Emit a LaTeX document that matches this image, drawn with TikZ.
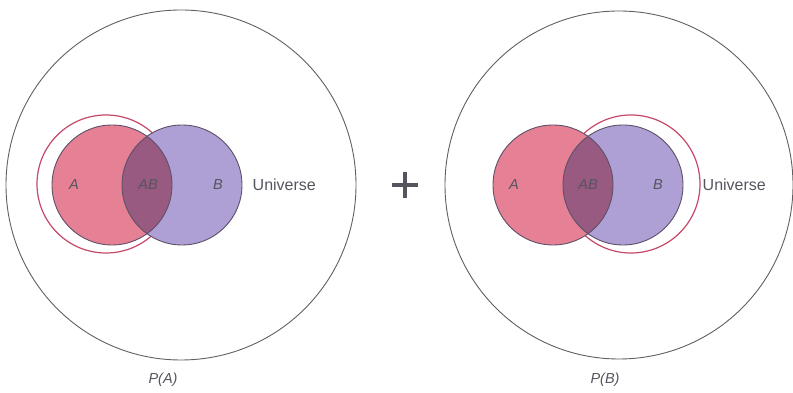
\documentclass[tikz,border=0pt]{standalone}
\usepackage{fontspec}
\setmainfont{Liberation Sans}
\usepackage{xcolor}
\usetikzlibrary{positioning}
\definecolor{LineCol}{RGB}{95,95,100}
\definecolor{SetEdge}{RGB}{95,80,105}
\definecolor{ACol}{RGB}{230,128,148}
\definecolor{BCol}{RGB}{174,160,212}
\definecolor{ABCol}{RGB}{152,90,128}
\definecolor{RingCol}{RGB}{196,72,104}
\definecolor{TxtCol}{RGB}{85,85,95}
\tikzset{
  vnuniv/.style={line width=0.9pt, draw=LineCol},
  vnset/.style={line width=0.9pt, draw=SetEdge},
  vnring/.style={line width=1.2pt, draw=RingCol},
  vnlab/.style={font=\fontsize{14.5}{15}\selectfont\itshape, text=TxtCol, inner sep=0.5pt},
  vnuni/.style={font=\fontsize{16}{17}\selectfont, text=TxtCol, inner sep=0.5pt, anchor=west},
  vnplus/.style={line width=4pt, draw=TxtCol}
}
\begin{document}
\begin{tikzpicture}[x=1pt,y=1pt]
  \useasboundingbox (0,0) rectangle (793,393);
  % left panel: P(A)
  \draw[vnuniv] (181,208) circle (175);
  \draw[vnring] (106,209) circle (69);
  \fill[ACol] (112,208) circle (60);
  \fill[BCol] (182,208) circle (60);
  \begin{scope}
    \clip (112,208) circle (60);
    \fill[ABCol] (182,208) circle (60);
  \end{scope}
  \draw[vnset] (112,208) circle (60);
  \draw[vnset] (182,208) circle (60);
  \node[vnlab] (lA) at (74,208) {A};
  \node[vnlab] (lAB) at (148,208) {AB};
  \node[vnlab] (lB) at (218,208) {B};
  \node[vnuni] (lU) at (252,208) {Universe};
  \node[vnlab] (PA) at (163,13) {P(A)};
  % plus sign
  \coordinate (pl) at (405,208);
  \draw[vnplus] ([xshift=-13pt]pl) -- ([xshift=13pt]pl);
  \draw[vnplus] ([yshift=-13pt]pl) -- ([yshift=13pt]pl);
  % right panel: P(B)
  \draw[vnuniv] (619,208) circle (174);
  \draw[vnring] (631,209) circle (69);
  \fill[ACol] (553,208) circle (60);
  \fill[BCol] (623,208) circle (60);
  \begin{scope}
    \clip (553,208) circle (60);
    \fill[ABCol] (623,208) circle (60);
  \end{scope}
  \draw[vnset] (553,208) circle (60);
  \draw[vnset] (623,208) circle (60);
  \node[vnlab] (rA) at (514,208) {A};
  \node[vnlab] (rAB) at (588,208) {AB};
  \node[vnlab] (rB) at (658,208) {B};
  \node[vnuni] (rU) at (702,208) {Universe};
  \node[vnlab] (PB) at (605,13) {P(B)};
\end{tikzpicture}
\end{document}
